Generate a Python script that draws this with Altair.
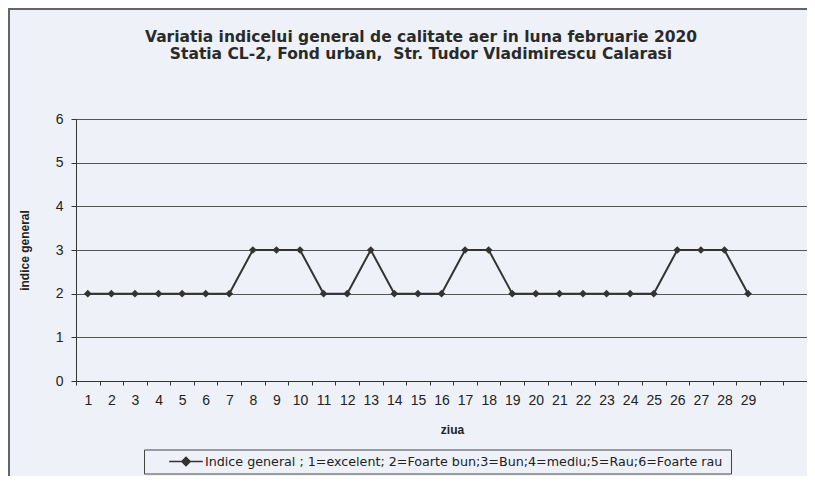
import altair as alt
import pandas as pd

# ---- data ----
days = [str(d) for d in range(1, 30)]
values = [2, 2, 2, 2, 2, 2, 2, 3, 3, 3, 2, 2, 3, 2, 2, 2, 3, 3, 2, 2, 2, 2, 2, 2, 2, 3, 3, 3, 2]
category_slots = [str(d) for d in range(1, 32)]   # axis has 31 category slots, only 1..29 labelled
y_ticks = [0, 1, 2, 3, 4, 5, 6]
series_name = "Indice  general ; 1=excelent; 2=Foarte bun;3=Bun;4=mediu;5=Rau;6=Foarte rau"
title_lines = [
    "Variatia indicelui general de calitate aer in luna februarie 2020",
    "Statia CL-2, Fond urban, \u00a0Str. Tudor Vladimirescu Calarasi",
]

df = pd.DataFrame({"ziua": days, "indice": values, "serie": series_name})

FONT = "Liberation Sans"
INK = "#333333"
BG = "#eef2f8"

x_enc = alt.X(
    "ziua:O",
    sort=category_slots,
    bandPosition=0.5,
    scale=alt.Scale(type="band", domain=category_slots, paddingInner=0, paddingOuter=0),
    axis=alt.Axis(
        title="ziua",
        labelAngle=0,
        labelExpr="toNumber(datum.value) <= 29 ? datum.label : ''",
        tickBand="extent",
        tickSize=4,
        tickColor=INK,
        domainColor=INK,
        labelPadding=8,
        labelFontSize=14,
        labelColor="#222222",
        labelFont=FONT,
        titleFont=FONT,
        titleFontSize=12,
        titleFontWeight="bold",
        titleColor="#222222",
        titlePadding=17,
        titleX=376,
        grid=False,
    ),
)

y_enc = alt.Y(
    "indice:Q",
    scale=alt.Scale(domain=[0, 6], nice=False, zero=True),
    axis=alt.Axis(
        title="indice general",
        values=y_ticks,
        tickSize=5,
        tickColor=INK,
        domainColor=INK,
        labelPadding=8,
        labelFontSize=14,
        labelColor="#222222",
        labelFont=FONT,
        titleFont=FONT,
        titleFontSize=12,
        titleFontWeight="bold",
        titleColor="#222222",
        titleAngle=-90,
        titleX=-52,
        titleY=131,
        titleAlign="center",
        titleBaseline="middle",
        grid=True,
        gridColor="#555555",
        gridWidth=1,
    ),
)

line = alt.Chart(df).mark_line(
    strokeWidth=2,
    point=alt.OverlayMarkDef(shape="diamond", filled=True, size=60, color=INK),
).encode(
    x=x_enc,
    y=y_enc,
    color=alt.Color(
        "serie:N",
        scale=alt.Scale(range=[INK]),
        legend=alt.Legend(
            title=None,
            orient="none",
            legendX=68,
            legendY=330.5,
            symbolType="M-2.4,0H2.4M0,-0.6L0.6,0L0,0.6L-0.6,0Z",
            symbolSize=196,
            symbolStrokeWidth=1.5,
            symbolFillColor=INK,
            symbolStrokeColor=INK,
            symbolOffset=30,
            labelFont="DejaVu Sans",
            labelFontSize=12.7,
            labelColor="#222222",
            labelLimit=800,
            labelOffset=11,
            padding=4,
            strokeColor="#444444",
            fillColor=BG,
        ),
    ),
)

frame = alt.Chart(df).mark_rect(
    fill=None, stroke="#666666", strokeWidth=1.5, clip=False
).encode(
    x=alt.value(-67.5), y=alt.value(-110.5), x2=alt.value(2000), y2=alt.value(1000)
)

chart = alt.layer(frame, line).properties(
    width=731,
    height=262,
    padding={"left": 68, "top": 111, "right": 0, "bottom": 95},
    autosize=alt.AutoSizeParams(type="none"),
    background=BG,
    title=alt.TitleParams(
        text=title_lines,
        anchor="middle",
        frame="group",
        dx=-20.5,
        offset=-55,
        font="DejaVu Sans",
        fontSize=15.5,
        fontWeight="bold",
        color="#2a2a2a",
        lineHeight=17,
    ),
).configure_view(stroke="#555555", strokeWidth=1)

chart.save("out.html", embed_options={"renderer": "svg", "actions": False})
